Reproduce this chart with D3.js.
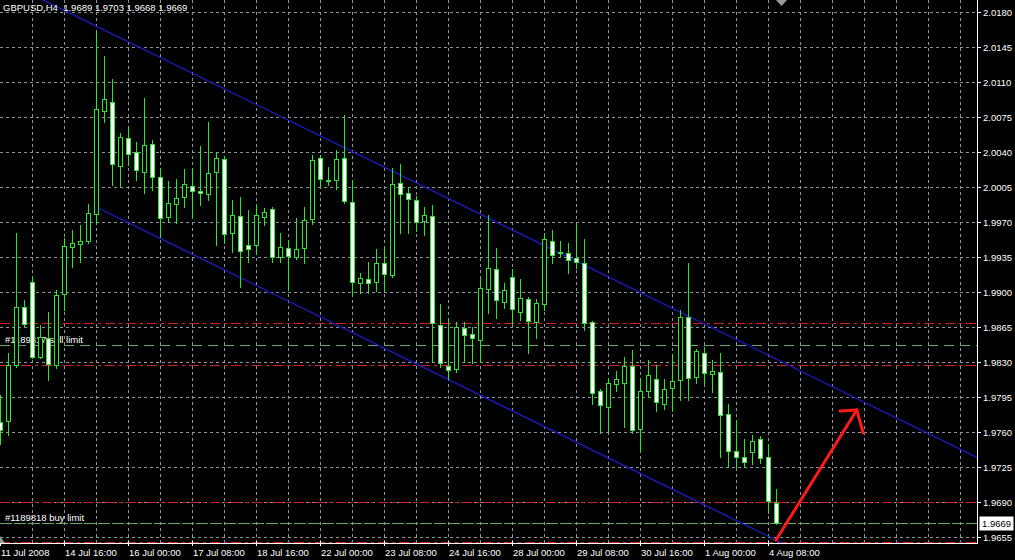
<!DOCTYPE html>
<html><head><meta charset="utf-8">
<script src="https://cdn.jsdelivr.net/npm/d3@7"></script>
<style>html,body{margin:0;padding:0;background:#000;}svg{display:block;}</style>
</head><body>
<script>
// ---- data (H4 bars, GBPUSD) ----
const opens  = [1.9770,1.9771,1.9827,1.9885,1.9910,1.9835,1.9854,1.9827,1.9898,1.9945,1.9948,1.9951,1.9978,2.0081,2.0090,2.0026,2.0054,2.0040,2.0020,2.0048,2.0015,1.9975,1.9988,1.9995,2.0006,2.0001,1.9998,2.0020,2.0033,1.9959,1.9976,1.9947,1.9947,1.9975,1.9983,1.9935,1.9944,1.9935,1.9944,1.9973,2.0034,2.0012,2.0012,2.0034,1.9990,1.9909,1.9913,1.9910,1.9929,1.9917,2.0009,1.9999,1.9992,1.9971,1.9976,1.9867,1.9826,1.9823,1.9864,1.9858,1.9852,1.9903,1.9923,1.9890,1.9915,1.9880,1.9893,1.9870,1.9888,1.9951,1.9940,1.9939,1.9934,1.9929,1.9870,1.9801,1.9785,1.9808,1.9809,1.9826,1.9763,1.9801,1.9813,1.9788,1.9804,1.9812,1.9875,1.9815,1.9839,1.9818,1.9820,1.9778,1.9741,1.9735,1.9740,1.9753,1.9735,1.9689];
const highs  = [1.9797,1.9839,1.9959,1.9892,1.9915,1.9867,1.9880,1.9902,1.9954,1.9962,1.9967,1.9988,2.0159,2.0136,2.0113,2.0059,2.0065,2.0050,2.0094,2.0052,2.0024,2.0011,2.0013,2.0023,2.0024,2.0046,2.0070,2.0040,2.0036,1.9992,1.9995,1.9982,1.9987,1.9984,1.9985,1.9959,1.9952,1.9974,1.9985,2.0037,2.0037,2.0025,2.0042,2.0077,2.0012,1.9919,1.9930,1.9943,1.9945,2.0024,2.0028,2.0005,1.9996,1.9985,1.9987,1.9888,1.9874,1.9870,1.9870,1.9865,1.9914,1.9977,1.9944,1.9909,1.9923,1.9913,1.9895,1.9893,1.9959,1.9962,1.9951,1.9949,1.9967,1.9953,1.9871,1.9803,1.9814,1.9821,1.9835,1.9842,1.9814,1.9832,1.9827,1.9813,1.9838,1.9882,1.9929,1.9843,1.9845,1.9832,1.9839,1.9788,1.9772,1.9753,1.9757,1.9756,1.9748,1.9703];
const lows   = [1.9748,1.9757,1.9825,1.9866,1.9834,1.9834,1.9812,1.9824,1.9882,1.9925,1.9930,1.9949,1.9969,2.0070,2.0007,2.0006,2.0027,2.0012,1.9999,2.0002,1.9955,1.9970,1.9969,1.9985,1.9974,1.9987,1.9992,1.9947,1.9949,1.9940,1.9905,1.9930,1.9938,1.9967,1.9930,1.9930,1.9902,1.9933,1.9929,1.9968,2.0004,2.0007,2.0003,1.9989,1.9897,1.9899,1.9899,1.9901,1.9901,1.9915,1.9959,1.9959,1.9961,1.9957,1.9830,1.9825,1.9813,1.9820,1.9830,1.9829,1.9830,1.9879,1.9874,1.9884,1.9869,1.9872,1.9839,1.9854,1.9882,1.9929,1.9935,1.9919,1.9924,1.9862,1.9788,1.9759,1.9759,1.9801,1.9765,1.9759,1.9740,1.9795,1.9781,1.9783,1.9781,1.9792,1.9792,1.9809,1.9809,1.9800,1.9735,1.9725,1.9725,1.9725,1.9728,1.9729,1.9679,1.9668];
const closes = [1.9762,1.9827,1.9885,1.9868,1.9835,1.9855,1.9828,1.9897,1.9946,1.9949,1.9951,1.9979,2.0083,2.0093,2.0028,2.0055,2.0038,2.0022,2.0047,2.0015,1.9974,1.9989,1.9994,2.0008,2.0001,1.9999,2.0019,2.0034,1.9958,1.9977,1.9941,1.9943,1.9977,1.9980,1.9935,1.9945,1.9936,1.9943,1.9972,2.0032,2.0013,2.0011,2.0033,1.9991,1.9910,1.9914,1.9909,1.9929,1.9918,2.0008,1.9998,1.9993,1.9970,1.9977,1.9869,1.9829,1.9822,1.9865,1.9857,1.9854,1.9904,1.9924,1.9892,1.9902,1.9883,1.9894,1.9871,1.9889,1.9953,1.9937,1.9939,1.9932,1.9930,1.9869,1.9799,1.9787,1.9809,1.9813,1.9826,1.9762,1.9801,1.9817,1.9790,1.9803,1.9811,1.9875,1.9814,1.9841,1.9819,1.9821,1.9777,1.9741,1.9735,1.9730,1.9751,1.9734,1.9691,1.9669];

const timeTickBars   = [0, 8, 16, 24, 32, 40, 48, 56, 64, 72, 80, 88, 96];
const timeTickLabels = ["11 Jul 2008","14 Jul 16:00","16 Jul 00:00","17 Jul 08:00","18 Jul 16:00","22 Jul 00:00","23 Jul 08:00","24 Jul 16:00","28 Jul 00:00","29 Jul 08:00","30 Jul 16:00","1 Aug 00:00","4 Aug 08:00"];
const priceTicks = [2.0180,2.0145,2.0110,2.0075,2.0040,2.0005,1.9970,1.9935,1.9900,1.9865,1.9830,1.9795,1.9760,1.9725,1.9690,1.9655];

// channel (bar, price) anchors
const channelBars  = [12, 97];
const upperPrices  = [2.0166, 1.9833];
const lowerPrices  = [1.9985, 1.9652];
// order lines
const redLevels   = [1.9869, 1.9827, 1.9690, 1.9650];
const greenLevels = [1.9847, 1.9669];
const orderLabels = ["#1189817 sell limit", "#1189818 buy limit"];
const orderLabelPrices = [1.9847, 1.9669];
// hand-drawn arrow (bar, price)
const arrowBars   = [97, 107.1];
const arrowPrices = [1.9652, 1.9782];
const barbBars    = [105, 107.9];
const barbPrices  = [1.9781, 1.9759];
const title = "GBPUSD,H4  1.9689 1.9703 1.9668 1.9669";
const bidPrice = 1.9669;

// ---- layout ----
const W = 1015, H = 560, PR = 977, PB = 543;
const font = "Tahoma, 'Liberation Sans', Arial, sans-serif";
const svg = d3.select("body").append("svg").attr("width", W).attr("height", H);
svg.append("rect").attr("width", W).attr("height", H).attr("fill", "#000");

const x = d3.scaleLinear().domain([0, PR / 8]).range([0, PR]);
const y = d3.scaleLinear().domain([1.9649, 2.0192]).range([PB, 0]);
const cy = p => Math.round(y(p)) + 0.5;
const cxp = b => Math.round(x(b));

svg.append("defs").append("clipPath").attr("id", "plot")
  .append("rect").attr("x", 0).attr("y", 0).attr("width", PR).attr("height", PB);
const plot = svg.append("g").attr("clip-path", "url(#plot)");

// grid
const gridColor = "#8f949b";
plot.selectAll(".hg").data(priceTicks).join("line")
  .attr("x1", 0).attr("x2", PR).attr("y1", d => cy(d)).attr("y2", d => cy(d))
  .attr("stroke", gridColor).attr("stroke-dasharray", "3,3");
const vgrid = d3.range(4, 124, 4);
plot.selectAll(".vg").data(vgrid).join("line")
  .attr("x1", d => cxp(d) + 0.5).attr("x2", d => cxp(d) + 0.5).attr("y1", 0).attr("y2", PB)
  .attr("stroke", gridColor).attr("stroke-dasharray", "3,3");

// order lines
plot.selectAll(".red").data(redLevels).join("line")
  .attr("x1", 0).attr("x2", PR).attr("y1", d => cy(d)).attr("y2", d => cy(d))
  .attr("stroke", "#d42020").attr("stroke-dasharray", "10,4,3,4");
plot.selectAll(".grn").data(greenLevels).join("line")
  .attr("x1", 0).attr("x2", PR).attr("y1", d => cy(d)).attr("y2", d => cy(d))
  .attr("stroke", "#6aa86a").attr("stroke-dasharray", (d, i) => i === 1 ? "12,2" : "10,6");
plot.selectAll(".olab").data(orderLabels).join("text")
  .attr("x", 5).attr("y", (d, i) => cy(orderLabelPrices[i]) - 3)
  .attr("fill", "#fff").attr("font-family", font).attr("font-size", "9.5px").text(d => d);

// channel
const lineAt = (bars, prices, b) => prices[0] + (prices[1] - prices[0]) * (b - bars[0]) / (bars[1] - bars[0]);
const endBar = PR / 8;
plot.append("line")
  .attr("x1", x(0)).attr("y1", y(lineAt(channelBars, upperPrices, 0)))
  .attr("x2", x(endBar)).attr("y2", y(lineAt(channelBars, upperPrices, endBar)))
  .attr("stroke", "#1c1cd0").attr("stroke-width", 1.3);
plot.append("line")
  .attr("x1", x(channelBars[0])).attr("y1", y(lowerPrices[0]))
  .attr("x2", x(endBar)).attr("y2", y(lineAt(channelBars, lowerPrices, endBar)))
  .attr("stroke", "#1c1cd0").attr("stroke-width", 1.3);

// arrow
const ar = plot.append("g").attr("stroke", "#ff1a1a").attr("stroke-width", 3).attr("stroke-linecap", "round").attr("fill", "none");
ar.append("line").attr("x1", x(arrowBars[0])).attr("y1", y(arrowPrices[0])).attr("x2", x(arrowBars[1])).attr("y2", y(arrowPrices[1]));
barbBars.forEach((b, i) => {
  ar.append("line").attr("x1", x(arrowBars[1])).attr("y1", y(arrowPrices[1])).attr("x2", x(b)).attr("y2", y(barbPrices[i]));
});

// candles
const green = "#35e035";
const bars = d3.range(opens.length);
const cg = plot.append("g");
cg.selectAll(".wick").data(bars).join("line")
  .attr("x1", i => cxp(i) + 0.5).attr("x2", i => cxp(i) + 0.5)
  .attr("y1", i => Math.round(y(highs[i]))).attr("y2", i => Math.round(y(lows[i])) + 1)
  .attr("stroke", green);
cg.selectAll(".body").data(bars).join("rect")
  .attr("x", i => cxp(i) - 1.5)
  .attr("y", i => Math.round(y(Math.max(opens[i], closes[i]))) + 0.5)
  .attr("width", 4)
  .attr("height", i => Math.max(Math.round(y(Math.min(opens[i], closes[i]))) - Math.round(y(Math.max(opens[i], closes[i]))), 0))
  .attr("fill", i => closes[i] < opens[i] ? "#fff" : "#000")
  .attr("stroke", green);

// axes frame
svg.append("line").attr("x1", PR + 0.5).attr("x2", PR + 0.5).attr("y1", 0).attr("y2", PB + 1).attr("stroke", "#fff");
svg.append("line").attr("x1", 0).attr("x2", PR + 1).attr("y1", PB + 0.5).attr("y2", PB + 0.5).attr("stroke", "#fff");

// price axis
svg.selectAll(".pt").data(priceTicks).join("line")
  .attr("x1", PR).attr("x2", PR + 4).attr("y1", d => cy(d)).attr("y2", d => cy(d)).attr("stroke", "#fff");
svg.selectAll(".pl").data(priceTicks).join("text")
  .attr("x", PR + 6).attr("y", d => cy(d) + 3.5)
  .attr("fill", "#fff").attr("font-family", font).attr("font-size", "9.5px")
  .text(d => d.toFixed(4));

// bid box
svg.append("rect").attr("x", PR + 2.5).attr("y", cy(bidPrice) - 7).attr("width", 34).attr("height", 14).attr("fill", "#fff");
svg.append("text").attr("x", PR + 5).attr("y", cy(bidPrice) + 3.5).attr("fill", "#000")
  .attr("font-family", font).attr("font-size", "9.5px").text(bidPrice.toFixed(4));

// time axis
svg.selectAll(".tt").data(timeTickBars).join("line")
  .attr("x1", d => cxp(d) + 0.5).attr("x2", d => cxp(d) + 0.5).attr("y1", PB - 2).attr("y2", PB + 3).attr("stroke", "#fff");
svg.selectAll(".tl").data(timeTickBars).join("text")
  .attr("x", d => cxp(d) + 1).attr("y", 556)
  .attr("fill", "#fff").attr("font-family", font).attr("font-size", "9.5px")
  .text((d, i) => timeTickLabels[i]);

// title
svg.append("text").attr("x", 3).attr("y", 11).attr("fill", "#fff")
  .attr("font-family", font).attr("font-size", "9.5px").attr("xml:space", "preserve").style("white-space", "pre").text(title);

// MT4 markers
svg.append("path").attr("d", "M776,0 L787,0 L781.5,6 Z").attr("fill", "#9a9a9a");
svg.append("path").attr("d", "M0,536 L0,543 L5,543 Z").attr("fill", "#9a9a9a");
</script>
</body></html>
